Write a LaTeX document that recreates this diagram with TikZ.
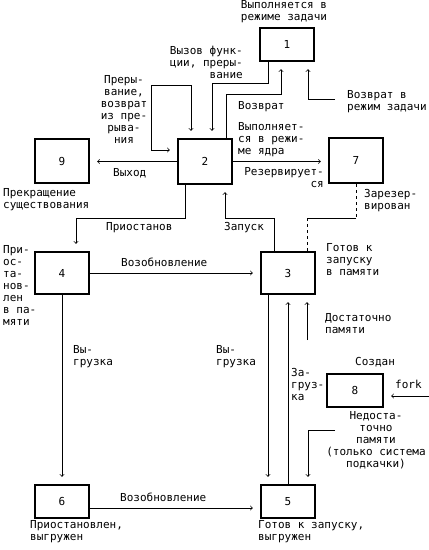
\documentclass[tikz,border=0pt]{standalone}
\usepackage{fontspec}
\newfontfamily\diagfont{DejaVu Sans Mono}
\begin{document}
\begin{tikzpicture}[x=1pt,y=-1pt,
        every node/.style={inner sep=0pt,font=\diagfont\fontsize{11}{12}\selectfont},
        state/.style={draw,line width=2.4pt,minimum width=54pt},
        conn/.style={line width=0.8pt,->,shorten >=7pt}]
        \useasboundingbox (0,0) rectangle (429,550);

        \node[state,minimum height=33pt] at (287, 44.5)  (s1) {1};
        \node[state,minimum height=45pt] at (205, 161.5) (s2) {2};
        \node[state,minimum height=44pt] at (62, 161)    (s9) {9};
        \node[state,minimum height=45pt] at (356, 160.5) (s7) {7};
        \node[state,minimum height=42pt] at (62, 273)    (s4) {4};
        \node[state,minimum height=42pt] at (288, 273)   (s3) {3};
        \node[state,minimum height=33pt,minimum width=56pt] at (355, 390.5) (s8) {8};
        \node[state,minimum height=33pt] at (62, 501.5)  (s6) {6};
        \node[state,minimum height=33pt] at (288, 501.5) (s5) {5};

        \coordinate (ret) at (335, 99);
        \coordinate (r7) at (356, 218);
        \coordinate (r3) at (307, 218);
        \coordinate (enough) at (307, 340);
        \coordinate (notenough) at (335, 430);
        \coordinate (forkin) at (429, 396);

        \draw[conn] ([xshift=-19pt]s1.south) |- (212,83) -- ([xshift=7pt]s2.north);
        \draw[conn] ([xshift=21pt]s2.north) |- (281,94) -- ([xshift=-6pt]s1.south);
        \draw[conn] (ret) -| ([xshift=21pt]s1.south);
        \draw[conn,<->,shorten <=7pt] (s2.west |- 0,150) -| (151,85) -| ([xshift=-14pt]s2.north);
        \draw[conn] (s2.west) -- (s2.west -| s9.east);
        \draw[conn] (s2.east) -- (s2.east -| s7.west);
        \draw[conn] ([xshift=-20pt]s2.south) |- (76,218) -- ([xshift=14pt]s4.north);
        \draw[conn] ([xshift=-14pt]s3.north) |- (225,218) -- ([xshift=20pt]s2.south);
        \draw[dashed,line width=0.8pt] (s7.south) -- (r7);
        \draw[line width=0.8pt] (r7) -- (r3);
        \draw[dashed,line width=0.8pt] (r3) -- (r3 |- s3.north);
        \draw[conn] (s4.east) -- (s4.east -| s3.west);
        \draw[conn] (s4.south) -- (s6.north);
        \draw[conn] ([xshift=-20pt]s3.south) -- ([xshift=-20pt]s5.north);
        \draw[conn] (s5.north) -- (s3.south);
        \draw[conn] (enough) -- (enough |- s3.south);
        \draw[conn] (notenough) -| ([xshift=20pt]s5.north);
        \draw[conn] (forkin) -- (forkin -| s8.east);
        \draw[conn] (s6.east |- 0,508) -- (s5.west |- 0,508);

        \node[align=center] at (284, 11.5) (t1) {Выполняется в\\режиме задачи};
        \node[align=right,anchor=east] at (243, 62) (tcall) {Вызов функ-\\ции, преры-\\вание};
        \node[anchor=west] at (238, 107) (tret) {Возврат};
        \node[align=left,anchor=west] at (347, 101.5) (tretuser) {Возврат в\\режим задачи};
        \node[align=center] at (124, 109.5) (tintr) {Преры-\\вание,\\возврат\\из пре-\\рыва-\\ния};
        \node[align=left,anchor=west] at (238, 140) (t2) {Выполняет-\\ся в режи-\\ме ядра};
        \node[anchor=west] at (113, 173) (texit) {Выход};
        \node[align=right,anchor=east] at (324, 178) (tpreempt) {Резервирует-\\ся};
        \node[align=left,anchor=west] at (3, 199.5) (t9) {Прекращение\\существования};
        \node[anchor=west] at (106, 228) (tsleep) {Приостанов};
        \node[anchor=west] at (224, 228) (trun) {Запуск};
        \node[align=left,anchor=west] at (364, 201) (t7) {Зарезер-\\вирован};
        \node[anchor=west] at (121, 262) (twake) {Возобновление};
        \node[align=left,anchor=west] at (326, 260) (t3) {Готов к\\запуску\\в памяти};
        \node[align=left,anchor=west] at (3, 285.5) (t4) {При-\\ос-\\та-\\нов-\\лен\\в па-\\мяти};
        \node[align=left,anchor=west] at (73, 356.5) (tout4) {Вы-\\грузка};
        \node[align=left,anchor=west] at (216, 356.5) (tout3) {Вы-\\грузка};
        \node[align=left,anchor=west] at (325, 323.5) (tenough) {Достаточно\\памяти};
        \node[anchor=west] at (355, 362) (t8) {Создан};
        \node[anchor=west] at (395, 384) (tfork) {fork};
        \node[align=left,anchor=west] at (291, 384.5) (tin) {За-\\груз-\\ка};
        \node[align=center] at (376, 440.5) (tnotenough) {Недоста-\\точно\\памяти\\(только система\\подкачки)};
        \node[anchor=west] at (120, 497) (twake2) {Возобновление};
        \node[align=left,anchor=west] at (30, 532) (t6) {Приостановлен,\\выгружен};
        \node[align=left,anchor=west] at (258, 532) (t5) {Готов к запуску,\\выгружен};
    \end{tikzpicture}
\end{document}
